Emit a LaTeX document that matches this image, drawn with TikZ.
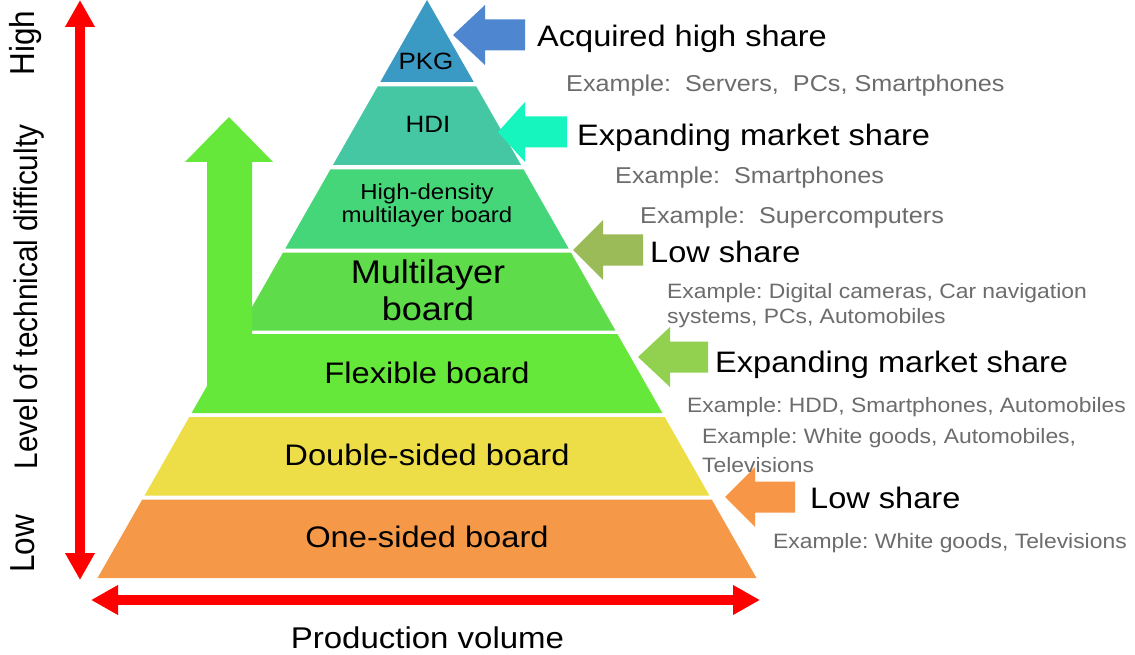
\documentclass[tikz,border=0pt]{standalone}
\usepackage{fontspec}
\setmainfont{Liberation Sans}
\usepackage{graphicx}
\usetikzlibrary{arrows.meta}
\definecolor{cPKG}{RGB}{59,154,196}
\definecolor{cHDI}{RGB}{69,199,163}
\definecolor{cHD}{RGB}{70,214,122}
\definecolor{cML}{RGB}{94,220,74}
\definecolor{cFX}{RGB}{102,232,58}
\definecolor{cDS}{RGB}{237,222,72}
\definecolor{cOS}{RGB}{245,152,72}
\definecolor{aBlue}{RGB}{79,134,208}
\definecolor{aCyan}{RGB}{22,245,190}
\definecolor{aOlive}{RGB}{155,187,89}
\definecolor{aLG}{RGB}{146,208,80}
\definecolor{aOr}{RGB}{247,150,70}
\definecolor{cGray}{RGB}{108,108,108}
\definecolor{cRed}{RGB}{255,0,0}
\newcommand\hs[1]{\scalebox{1.1}[1]{#1}}
\newcommand\vs[1]{\scalebox{1}[1.1]{#1}}
\newcommand\fsz[2]{\fontsize{#1}{#2}\selectfont}
\newcommand\barrow[5]{%
  \fill[#1] (#2,#3) -- (#4,{#3-30}) -- (#4,{#3-15.5}) -- (#5,{#3-15.5})
    -- (#5,{#3+15.5}) -- (#4,{#3+15.5}) -- (#4,{#3+30}) -- cycle;}
\AtBeginDocument{\frenchspacing}
\begin{document}
\begin{tikzpicture}[x=1pt,y=-1pt,
  every node/.style={inner sep=0pt},
  big/.style={anchor=base west, font=\fsz{29.6}{30}},
  exa/.style={anchor=base west, text=cGray, font=\fsz{22.9}{25}},
  exb/.style={anchor=base west, text=cGray, font=\fsz{20.8}{25}},
  exc/.style={anchor=base west, text=cGray, font=\fsz{20.8}{29}},
  layerlbl/.style={anchor=base, font=\fsz{29.7}{30}},
  axislbl/.style={anchor=base, rotate=90},
  redarrow/.style={cRed, line width=10pt, {Triangle[length=27pt,width=28pt]}-{Triangle[length=27pt,width=28pt]}}
]
\useasboundingbox (0,0) rectangle (1135,655);
\fill[white] (0,0) rectangle (1135,655);

% pyramid layers
\foreach \c/\t/\b in {cPKG/0/82, cHDI/86.5/165, cHD/169.5/248.5, cML/252.5/330.5,
                      cFX/334/413, cDS/417/495.5, cOS/499.5/578} {
  \fill[\c] ({427-0.57*\t},\t) -- ({427+0.57*\t},\t) -- ({427+0.57*\b},\b)
            -- ({427-0.57*\b},\b) -- cycle;
}

% green upward arrow
\fill[cFX] (207,400) -- (207,162) -- (185,162) -- (229,117) -- (273,162)
           -- (252,162) -- (252,400) -- cycle;

% block arrows
\barrow{aBlue}{453}{35}{485}{525}
\barrow{aCyan}{498}{132}{525}{567}
\barrow{aOlive}{573}{250}{603}{643}
\barrow{aLG}{638}{357}{670}{708}
\barrow{aOr}{725}{497}{755}{795}

% axes
\coordinate (vtop) at (80,0);
\coordinate (vbot) at (80,580);
\coordinate (hleft) at (91,600);
\coordinate (hright) at (760,600);
\draw[redarrow] (vbot) -- (vtop);
\draw[redarrow] (hleft) -- (hright);

% layer labels
\node[layerlbl, font=\fsz{23.6}{24}] (pkg) at (426,70) {\hs{PKG}};
\node[layerlbl, font=\fsz{23.6}{24}] (hdi) at (428,133) {\hs{HDI}};
\node[layerlbl, font=\fsz{21.8}{23}] (hd) at (427,200)
  {\hs{\begin{tabular}[t]{@{}c@{}}High-density\\multilayer board\end{tabular}}};
\node[layerlbl, font=\fsz{32.8}{37}] (ml) at (428,283)
  {\hs{\begin{tabular}[t]{@{}c@{}}Multilayer\\board\end{tabular}}};
\node[layerlbl] (fx) at (427,383) {\hs{Flexible board}};
\node[layerlbl] (ds) at (427,465) {\hs{Double-sided board}};
\node[layerlbl] (os) at (427,547) {\hs{One-sided board}};

% right-hand texts
\node[big] (t1) at (537,47) {\hs{Acquired high share}};
\node[exa] (e1) at (566,92) {\hs{Example:~ Servers,~ PCs, Smartphones}};
\node[big] (t2) at (577,146) {\hs{Expanding market share}};
\node[exa] (e2) at (615,184) {\hs{Example:~ Smartphones}};
\node[exa] (e3) at (640,223) {\hs{Example:~ Supercomputers}};
\node[big] (t3) at (650,262) {\hs{Low share}};
\node[exb] (e4) at (667,298)
  {\hs{\begin{tabular}[t]{@{}l@{}}Example: Digital cameras, Car navigation\\systems, PCs, Automobiles\end{tabular}}};
\node[big] (t4) at (715,372) {\hs{Expanding market share}};
\node[exb] (e5) at (687,412) {\hs{Example: HDD, Smartphones, Automobiles}};
\node[exc] (e6) at (702,443)
  {\hs{\begin{tabular}[t]{@{}l@{}}Example: White goods, Automobiles,\\Televisions\end{tabular}}};
\node[big] (t5) at (810,508) {\hs{Low share}};
\node[exb] (e7) at (773,548) {\hs{Example: White goods, Televisions}};

% axis labels
\node[anchor=base, font=\fsz{30}{30}] (pv) at (427.5,648) {\hs{Production volume}};
\node[axislbl, font=\fsz{31.5}{32}] (high) at (34,43) {\vs{High}};
\node[axislbl, font=\fsz{29.7}{30}] (lvl) at (37,297) {\vs{Level of technical difficulty}};
\node[axislbl, font=\fsz{31.5}{32}] (low) at (34,544) {\vs{Low}};
\end{tikzpicture}
\end{document}
